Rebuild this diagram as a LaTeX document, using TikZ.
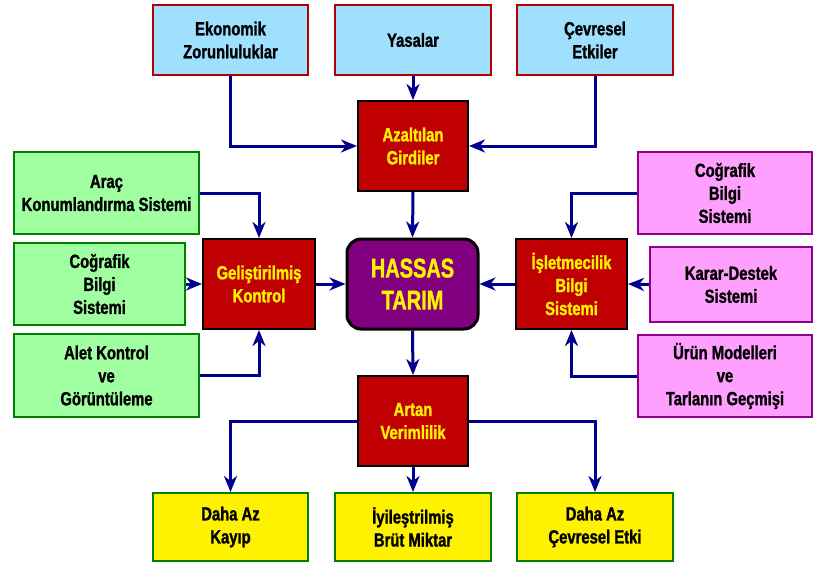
\documentclass[tikz,border=0pt]{standalone}
\usepackage{fontspec}
\setmainfont[FakeStretch=0.78, BoldFeatures={FakeBold=1.2}]{Liberation Sans}
\newfontfamily\hfont[FakeStretch=0.74, BoldFeatures={FakeBold=1.2}]{Liberation Sans}
\usetikzlibrary{arrows.meta}
\definecolor{lblue}{RGB}{160,224,255}
\definecolor{bred}{RGB}{176,0,0}
\definecolor{rfill}{RGB}{192,0,0}
\definecolor{lgreen}{RGB}{160,255,160}
\definecolor{dgreen}{RGB}{0,128,0}
\definecolor{lpink}{RGB}{255,160,255}
\definecolor{dpurple}{RGB}{144,0,144}
\definecolor{hpurple}{RGB}{128,0,128}
\definecolor{navy}{RGB}{0,0,144}
\tikzset{
  x=1pt, y=-1pt,
  base/.style={inner sep=0pt, align=center, font=\fontsize{19}{23}\selectfont\bfseries},
  bluebox/.style={base, draw=bred, fill=lblue, line width=2pt},
  redbox/.style={base, draw=black, fill=rfill, line width=2pt, text=yellow, minimum width=110pt, minimum height=90pt},
  greenbox/.style={base, draw=dgreen, fill=lgreen, line width=2pt},
  pinkbox/.style={base, draw=dpurple, fill=lpink, line width=2pt},
  yellowbox/.style={base, draw=dgreen, fill=yellow, line width=2pt},
  arr/.style={draw=navy, line width=3pt, -{Stealth[length=16pt, width=13pt, inset=5pt]}},
}
\begin{document}
\begin{tikzpicture}
\useasboundingbox (0,0) rectangle (814,562);
% top
\node[bluebox, minimum width=155pt, minimum height=70pt] (eko) at (230.5,40) {Ekonomik\\Zorunluluklar};
\node[bluebox, minimum width=156pt, minimum height=70pt] (yas) at (413,40) {Yasalar};
\node[bluebox, minimum width=156pt, minimum height=70pt] (cev) at (595,40) {Çevresel\\Etkiler};
\node[redbox] (azal) at (413,146) {Azaltılan\\Girdiler};
% left
\node[greenbox, minimum width=185pt, minimum height=82pt] (arac) at (106.5,193) {Araç\\Konumlandırma Sistemi};
\node[greenbox, minimum width=171pt, minimum height=82pt] (cog1) at (99.5,284) {Coğrafik\\Bilgi\\Sistemi};
\node[greenbox, minimum width=185pt, minimum height=83pt] (alet) at (106.5,375.5) {Alet Kontrol\\ve\\Görüntüleme};
\node[redbox, minimum width=112pt] (gel) at (259,284) {Geliştirilmiş\\Kontrol};
% center
\node[draw=black, fill=hpurple, line width=3pt, rounded corners=14pt, minimum width=131pt, minimum height=90pt, inner sep=0pt, align=center, text=yellow, font=\hfont\fontsize{27}{32}\selectfont\bfseries] (has) at (412.5,284) {HASSAS\\TARIM};
% right
\node[redbox, minimum width=111pt] (isl) at (571.5,284) {İşletmecilik\\Bilgi\\Sistemi};
\node[pinkbox, minimum width=174pt, minimum height=82pt] (cog2) at (725,193) {Coğrafik\\Bilgi\\Sistemi};
\node[pinkbox, minimum width=162pt, minimum height=75pt] (karar) at (731,284.5) {Karar-Destek\\Sistemi};
\node[pinkbox, minimum width=174pt, minimum height=82pt] (urun) at (725,376) {Ürün Modelleri\\ve\\Tarlanın Geçmişi};
% bottom
\node[redbox] (artan) at (413,421) {Artan\\Verimlilik};
\node[yellowbox, minimum width=155pt, minimum height=68pt] (kayip) at (230.5,527) {Daha Az\\Kayıp};
\node[yellowbox, minimum width=156pt, minimum height=68pt] (iyi) at (413,527) {İyileştrilmiş\\Brüt Miktar};
\node[yellowbox, minimum width=156pt, minimum height=68pt] (cevetki) at (595,527) {Daha Az\\Çevresel Etki};
% connectors
\draw[arr] (eko.south) |- (azal.west);
\draw[arr] (cev.south) |- (azal.east);
\draw[arr] (yas.south) -- (azal.north);
\draw[arr] (azal.south) -- (has.north);
\draw[arr] (arac.east) -| (gel.north);
\draw[arr] (cog1.east) -- (gel.west);
\draw[arr] (alet.east) -| (gel.south);
\draw[arr] (gel.east) -- (has.west);
\draw[arr] (cog2.west) -| (isl.north);
\draw[arr] (karar.west) -- (isl.east);
\draw[arr] (urun.west) -| (isl.south);
\draw[arr] (isl.west) -- (has.east);
\draw[arr] (has.south) -- (artan.north);
\draw[arr] (artan.west) -| (kayip.north);
\draw[arr] (artan.south) -- (iyi.north);
\draw[arr] (artan.east) -| (cevetki.north);
\end{tikzpicture}
\end{document}
